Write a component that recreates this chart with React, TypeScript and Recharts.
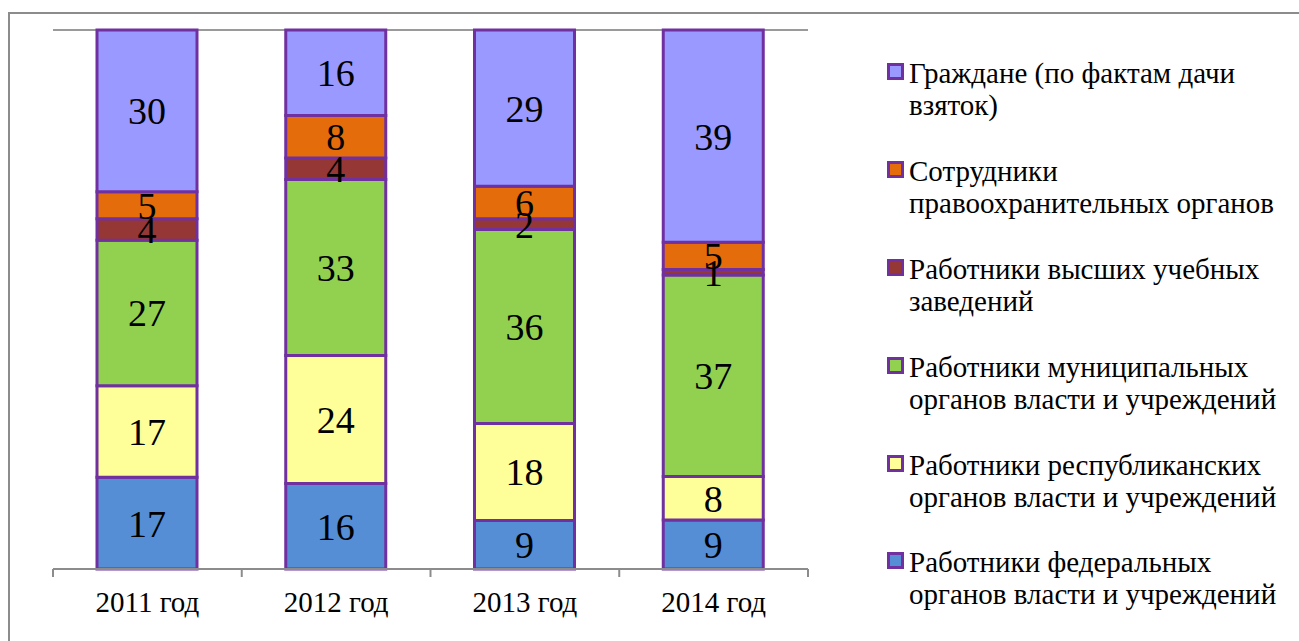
import React from "react";
import { BarChart, Bar, XAxis, YAxis, CartesianGrid, Legend, LabelList } from "recharts";

const categories = ["2011 год", "2012 год", "2013 год", "2014 год"];
const federal = [17, 16, 9, 9];
const republican = [17, 24, 18, 8];
const municipal = [27, 33, 36, 37];
const universities = [4, 4, 2, 1];
const lawEnforcement = [5, 8, 6, 5];
const citizens = [30, 16, 29, 39];
const yTicks = [0, 0.2, 0.4, 0.6, 0.8, 1];

const series = [
  { key: "federal", name: "Работники федеральных органов власти и учреждений", color: "#558ED5", values: federal },
  { key: "republican", name: "Работники республиканских органов власти и учреждений", color: "#FFFF99", values: republican },
  { key: "municipal", name: "Работники муниципальных органов власти и учреждений", color: "#92D050", values: municipal },
  { key: "universities", name: "Работники высших учебных заведений", color: "#953735", values: universities },
  { key: "lawEnforcement", name: "Сотрудники правоохранительных органов", color: "#E46C0A", values: lawEnforcement },
  { key: "citizens", name: "Граждане (по фактам дачи взяток)", color: "#9999FF", values: citizens },
];

const data = categories.map((c, i) => {
  const row: any = { category: c };
  series.forEach((s) => (row[s.key] = s.values[i]));
  return row;
});

const FONT = "Liberation Serif, Tinos, Times New Roman, Times, DejaVu Serif, Noto Serif, serif";
const PURPLE = "#7030A0";
const CHART_W = 1291;
const CHART_H = 629;
const MARGIN = { top: 18, left: 45, right: 491, bottom: 0 };
const BAND = (CHART_W - MARGIN.left - MARGIN.right) / categories.length;

const XTick = (props: any) => {
  const { x, y, payload, index } = props;
  const half = BAND / 2;
  return (
    <g>
      <line x1={x - half} y1={y} x2={x - half} y2={y + 8} stroke="#8c8c8c" strokeWidth={2} />
      {index === categories.length - 1 && (
        <line x1={x + half} y1={y} x2={x + half} y2={y + 8} stroke="#8c8c8c" strokeWidth={2} />
      )}
      <text x={x} y={y + 43} textAnchor="middle" fontFamily={FONT} fontSize={29} fill="#000">
        {payload.value}
      </text>
    </g>
  );
};

const LegendContent = () => {
  const items = [...series].reverse();
  return (
    <div style={{ position: "relative", width: 410 }}>
      {items.map((s) => (
        <div key={s.key} style={{ position: "relative", height: 97.9 }}>
          <div
            style={{
              position: "absolute",
              left: 0,
              top: 6,
              width: 17,
              height: 17,
              boxSizing: "border-box",
              border: `3px solid ${PURPLE}`,
              background: s.color,
            }}
          />
          <div
            style={{
              position: "absolute",
              left: 22,
              top: 0,
              width: 385,
              fontFamily: FONT,
              fontSize: 29,
              lineHeight: "32px",
              color: "#000",
            }}
          >
            {s.name}
          </div>
        </div>
      ))}
    </div>
  );
};

export default function App() {
  return (
    <div
      style={{
        position: "absolute",
        left: 8,
        top: 12,
        width: CHART_W,
        height: CHART_H,
        overflow: "hidden",
        background: "#fff",
      }}
    >
      <div
        style={{
          position: "absolute",
          left: 0,
          top: 0,
          width: 3000,
          height: 3000,
          borderTop: "2px solid #8c8c8c",
          borderLeft: "2px solid #8c8c8c",
        }}
      />
      <div style={{ position: "absolute", left: 0, top: 0 }}>
        <BarChart
          width={CHART_W}
          height={CHART_H}
          data={data}
          margin={MARGIN}
          stackOffset="expand"
          barSize={100}
        >
          <CartesianGrid vertical={false} stroke="#9a9a9a" strokeWidth={2} />
          <YAxis
            width={0}
            domain={[0, 1]}
            ticks={yTicks}
            tick={false}
            axisLine={false}
            tickLine={false}
          />
          <XAxis
            dataKey="category"
            height={72}
            tickSize={0}
            tickMargin={0}
            tickLine={false}
            axisLine={{ stroke: "#8c8c8c", strokeWidth: 2 }}
            tick={<XTick />}
            interval={0}
          />
          {series.map((s) => (
            <Bar
              key={s.key}
              dataKey={s.key}
              name={s.name}
              stackId="a"
              fill={s.color}
              stroke={PURPLE}
              strokeWidth={3}
              isAnimationActive={false}
            >
              <LabelList
                dataKey={s.key}
                position="center"
                fill="#000"
                fontSize={38}
                fontFamily={FONT}
              />
            </Bar>
          ))}
          <Legend
            layout="horizontal"
            verticalAlign="middle"
            align="center"
            wrapperStyle={{ left: 879, top: 45, width: 410, height: 600 }}
            content={<LegendContent />}
          />
        </BarChart>
      </div>
    </div>
  );
}
